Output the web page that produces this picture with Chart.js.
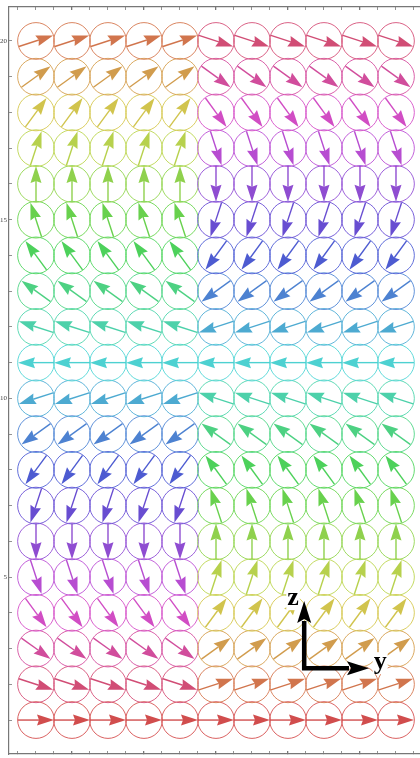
<!DOCTYPE html>
<html>
<head>
<meta charset="utf-8">
<script src="https://cdn.jsdelivr.net/npm/chart.js@4.4.0/dist/chart.umd.min.js"></script>
<style>
  html, body { margin: 0; padding: 0; background: #fff; overflow: hidden; }
</style>
</head>
<body>
<canvas id="c" width="420" height="758"></canvas>
<script>
// grid of cells: column index (y) and row index (z)
const columns = [1, 2, 3, 4, 5, 6, 7, 8, 9, 10, 11];
const leftColumns = [1, 2, 3, 4, 5];
const rows = [1, 2, 3, 4, 5, 6, 7, 8, 9, 10, 11, 12, 13, 14, 15, 16, 17, 18, 19, 20];

// arrow direction per row (degrees, 0 = +y, 90 = +z)
const leftAngles = [0, -18, -36, -54, -72, -90, -108, -126, -144, -162,
  -180, -198, -216, -234, -252, -270, -288, -306, -324, -342];
const rightAngles = [0, 18, 36, 54, 72, 90, 108, 126, 144, 162,
  180, 198, 216, 234, 252, 270, 288, 306, 324, 342];

// axes
const yTickValues = [1, 2, 3, 4, 5, 6, 7, 8, 9, 10, 11, 12, 13, 14, 15, 16, 17, 18, 19, 20];
const yTickLabels = [5, 10, 15, 20];
const xTickValues = [0.5, 1, 1.5, 2, 2.5, 3, 3.5, 4, 4.5, 5, 5.5, 6, 6.5, 7, 7.5, 8, 8.5, 9, 9.5, 10, 10.5, 11, 11.5];
const xMajorTicks = [2, 4, 6, 8, 10];

function hsv(h, s, v, a) {
  h = ((h % 360) + 360) % 360
  const c = v * s, xx = c * (1 - Math.abs((h / 60) % 2 - 1)), m = v - c
  let r, g, b
  if (h < 60) [r, g, b] = [c, xx, 0]
  else if (h < 120) [r, g, b] = [xx, c, 0]
  else if (h < 180) [r, g, b] = [0, c, xx]
  else if (h < 240) [r, g, b] = [0, xx, c]
  else if (h < 300) [r, g, b] = [xx, 0, c]
  else [r, g, b] = [c, 0, xx]
  return `rgba(${Math.round((r + m) * 255)},${Math.round((g + m) * 255)},${Math.round((b + m) * 255)},${a})`
}
const arrowColor = a => hsv(a, 0.63, 0.82, 1)
const ringColor = a => hsv(a, 0.62, 0.84, 0.9)

const cells = []
rows.forEach((r, i) => {
  columns.forEach(c => {
    const angle = leftColumns.includes(c) ? leftAngles[i] : rightAngles[i]
    cells.push({ x: c, y: r, angle })
  })
})

const CELL_R = 0.51   // ring radius in axis units
const HALF = 0.5      // half arrow length in axis units

function drawArrow(ctx, x0, y0, x1, y1, color, lw, hl, hw, notch) {
  const L = Math.hypot(x1 - x0, y1 - y0)
  const ux = (x1 - x0) / L, uy = (y1 - y0) / L
  const nx = -uy, ny = ux
  const bx = x1 - ux * hl, by = y1 - uy * hl
  ctx.strokeStyle = color
  ctx.fillStyle = color
  ctx.lineWidth = lw
  ctx.beginPath()
  ctx.moveTo(x0, y0)
  ctx.lineTo(bx + ux * notch, by + uy * notch)
  ctx.stroke()
  ctx.beginPath()
  ctx.moveTo(x1, y1)
  ctx.lineTo(bx + nx * hw, by + ny * hw)
  ctx.lineTo(bx + ux * notch, by + uy * notch)
  ctx.lineTo(bx - nx * hw, by - ny * hw)
  ctx.closePath()
  ctx.fill()
}

const arrowsPlugin = {
  id: 'arrows',
  afterDatasetsDraw(chart) {
    const { ctx, scales: { x, y } } = chart
    ctx.save()
    ctx.lineCap = 'butt'
    cells.forEach(c => {
      const t = c.angle * Math.PI / 180
      const dx = Math.cos(t) * HALF, dy = Math.sin(t) * HALF
      drawArrow(ctx,
        x.getPixelForValue(c.x - dx), y.getPixelForValue(c.y - dy),
        x.getPixelForValue(c.x + dx), y.getPixelForValue(c.y + dy),
        arrowColor(c.angle), 1.4, 17, 5.5, 2)
    })
    ctx.restore()
  }
}

// little y/z frame in the lower right
const triad = { ox: 8.45, oy: 2.45, zTip: 4.33, yTip: 10.25, zLabel: [8.14, 4.41], yLabel: [10.56, 2.62] }

const triadPlugin = {
  id: 'triad',
  afterDraw(chart) {
    const { ctx, scales: { x, y } } = chart
    ctx.save()
    ctx.font = 'bold 26px "Liberation Serif", serif'
    ctx.textAlign = 'center'
    ctx.textBaseline = 'middle'
    ;[['z', triad.zLabel], ['y', triad.yLabel]].forEach(([t, p]) => {
      const px = x.getPixelForValue(p[0]), py = y.getPixelForValue(p[1])
      const w = ctx.measureText(t).width
      ctx.fillStyle = '#fff'
      ctx.fillRect(px - w / 2 - 1, py - 10, w + 2, 22)
      ctx.fillStyle = '#000'
      ctx.fillText(t, px, py)
    })
    const ox = x.getPixelForValue(triad.ox), oy = y.getPixelForValue(triad.oy)
    const zx = ox, zy = y.getPixelForValue(triad.zTip)
    const yx = x.getPixelForValue(triad.yTip), yy = oy
    const hl = 22, hw = 7
    ctx.strokeStyle = '#000'
    ctx.fillStyle = '#000'
    ctx.lineWidth = 4.5
    ctx.lineJoin = 'miter'
    ctx.beginPath()
    ctx.moveTo(zx, zy + hl - 2)
    ctx.lineTo(ox, oy)
    ctx.lineTo(yx - hl + 2, yy)
    ctx.stroke()
    ctx.beginPath()
    ctx.moveTo(zx, zy)
    ctx.lineTo(zx - hw, zy + hl)
    ctx.lineTo(zx, zy + hl - 4)
    ctx.lineTo(zx + hw, zy + hl)
    ctx.closePath()
    ctx.fill()
    ctx.beginPath()
    ctx.moveTo(yx, yy)
    ctx.lineTo(yx - hl, yy - hw)
    ctx.lineTo(yx - hl + 4, yy)
    ctx.lineTo(yx - hl, yy + hw)
    ctx.closePath()
    ctx.fill()
    ctx.restore()
  }
}

const frameGrid = {
  drawOnChartArea: false,
  drawTicks: true,
  tickLength: -3,
  color: '#777',
  lineWidth: ctx => ctx.tick && xMajorTicks.includes(ctx.tick.value) ? 1.3 : 0.8
}

const fitX = h => s => { s.height = h; s.paddingLeft = 0; s.paddingRight = 0 }

new Chart(document.getElementById('c'), {
  type: 'scatter',
  data: {
    datasets: [{
      data: cells,
      showLine: false,
      backgroundColor: 'rgba(0,0,0,0)',
      borderColor: ctx => ctx.raw ? ringColor(ctx.raw.angle) : '#000',
      borderWidth: 1,
      pointRadius: ctx => {
        const s = ctx.chart.scales.x
        return s ? s.getPixelForValue(1 + CELL_R) - s.getPixelForValue(1) : 18
      },
      pointHoverRadius: 0
    }]
  },
  options: {
    responsive: false,
    animation: false,
    events: [],
    layout: { padding: 0, autoPadding: false },
    plugins: { legend: { display: false }, tooltip: { enabled: false } },
    scales: {
      x: {
        type: 'linear', position: 'bottom', min: 0.25, max: 11.667,
        afterBuildTicks: s => { s.ticks = xTickValues.map(v => ({ value: v })) },
        afterFit: fitX(4),
        grid: frameGrid,
        border: { display: true, color: '#777', width: 1.2 },
        ticks: { display: false }
      },
      x2: {
        type: 'linear', position: 'top', min: 0.25, max: 11.667,
        afterBuildTicks: s => { s.ticks = xTickValues.map(v => ({ value: v })) },
        afterFit: fitX(7),
        grid: frameGrid,
        border: { display: true, color: '#777', width: 1.2 },
        ticks: { display: false }
      },
      y: {
        type: 'linear', position: 'left', min: 0.05, max: 20.95,
        afterBuildTicks: s => { s.ticks = yTickValues.map(v => ({ value: v })) },
        afterFit: s => { s.width = 9; s.paddingTop = 0; s.paddingBottom = 0 },
        grid: { drawOnChartArea: false, drawTicks: true, tickLength: -3, color: '#777', lineWidth: 0.8 },
        border: { display: true, color: '#777', width: 1.2 },
        ticks: {
          autoSkip: false,
          padding: 5,
          color: '#444',
          font: { size: 7, family: '"Liberation Serif", serif' },
          callback: v => yTickLabels.includes(v) ? String(v) : ''
        }
      }
    }
  },
  plugins: [arrowsPlugin, triadPlugin]
})
</script>
</body>
</html>
